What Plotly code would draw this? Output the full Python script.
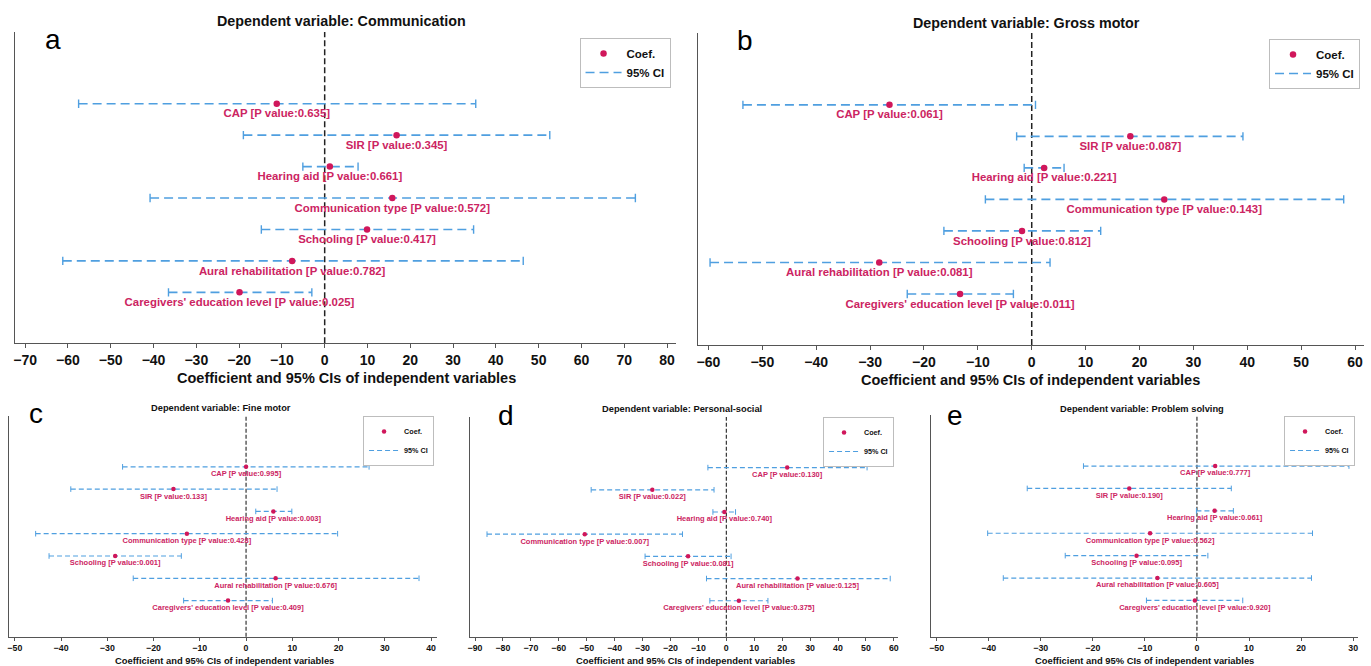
import plotly.graph_objects as go

# ---------------- data ----------------
variables = ["CAP", "SIR", "Hearing aid", "Communication type", "Schooling",
             "Aural rehabilitation", "Caregivers' education level"]
panel_letters = ["a", "b", "c", "d", "e"]
dependent_vars = ["Communication", "Gross motor", "Fine motor", "Personal-social", "Problem solving"]

comm_coef = [-11.2, 16.8, 1.2, 15.8, 9.9, -7.6, -19.9]
comm_lo = [-57.5, -19.0, -5.1, -40.8, -14.8, -61.2, -36.5]
comm_hi = [35.3, 52.6, 7.8, 72.6, 34.8, 46.4, -3.0]
comm_p = ["0.635", "0.345", "0.661", "0.572", "0.417", "0.782", "0.025"]

gross_coef = [-26.4, 18.3, 2.3, 24.6, -1.8, -28.3, -13.3]
gross_lo = [-53.6, -2.8, -1.4, -8.6, -16.3, -59.7, -23.1]
gross_hi = [0.7, 39.2, 6.0, 57.9, 12.8, 3.4, -3.4]
gross_p = ["0.061", "0.087", "0.221", "0.143", "0.812", "0.081", "0.011"]

fine_coef = [0.0, -15.7, 5.9, -12.8, -28.3, 6.4, -3.9]
fine_lo = [-26.7, -37.9, 2.1, -45.5, -42.6, -24.4, -13.5]
fine_hi = [26.6, 6.7, 9.9, 19.8, -14.0, 37.4, 5.7]
fine_p = ["0.995", "0.133", "0.003", "0.428", "0.001", "0.676", "0.409"]

pers_coef = [21.8, -26.5, -0.7, -50.7, -13.7, 25.5, 4.5]
pers_lo = [-6.6, -48.4, -4.8, -85.7, -29.1, -7.1, -5.9]
pers_hi = [50.4, -4.4, 3.3, -15.7, 1.7, 58.7, 14.9]
pers_p = ["0.130", "0.022", "0.740", "0.007", "0.081", "0.125", "0.375"]

prob_coef = [3.5, -13.0, 3.4, -9.0, -11.6, -7.6, -0.4]
prob_lo = [-21.8, -32.6, -0.1, -40.2, -25.3, -37.2, -9.7]
prob_hi = [29.2, 6.6, 7.0, 22.2, 2.1, 22.0, 8.8]
prob_p = ["0.777", "0.190", "0.061", "0.562", "0.095", "0.605", "0.920"]

panels_data = [
    (comm_coef, comm_lo, comm_hi, comm_p),
    (gross_coef, gross_lo, gross_hi, gross_p),
    (fine_coef, fine_lo, fine_hi, fine_p),
    (pers_coef, pers_lo, pers_hi, pers_p),
    (prob_coef, prob_lo, prob_hi, prob_p),
]

# ---------------- styling / layout (pixel geometry) ----------------
W, H = 1371, 666
FONT = "Liberation Sans, Arial, Helvetica, sans-serif"
RED = "#d0175b"
TXT_RED = "#cc2462"
BLUE = "#4f9fe0"
AXIS = "#555555"


def px(x):
    return x / W


def py(y):
    return 1 - y / H


# plot-area edges (px), x range, title / axis-title / letter centres, legend top-right corner
geom = [
    dict(l=13.3, r=675.5, t=32, b=343.3, xr=[-72.3, 82.1], title=(340, 21.5), xt=(345, 377.5),
         let=(51.5, 39.5), leg=(670, 38), big=True),
    dict(l=697.4, r=1365, t=33, b=345, xr=[-61.96, 61.67], title=(1026.5, 23), xt=(1031, 380),
         let=(745, 40.5), leg=(1361, 39), big=True),
    dict(l=7.3, r=436, t=416, b=636.7, xr=[-51.2, 41.3], title=(219.3, 408.2), xt=(222.7, 660),
         let=(34.5, 413), leg=(433, 416), big=False),
    dict(l=469, r=898.3, t=417, b=636.7, xr=[-91.8, 61.6], title=(681.2, 409.2), xt=(684.5, 660),
         let=(505, 415.3), leg=(894, 417), big=False),
    dict(l=930.7, r=1359.3, t=415, b=636.7, xr=[-51.15, 31.0], title=(1142.8, 408.5), xt=(1145.3, 660),
         let=(954.7, 415.3), leg=(1356, 416), big=False),
]

YR = [-0.62, 9.28]
rows = list(range(len(variables), 0, -1))

fig = go.Figure()
annotations = []
shapes = []
layout_extra = {}

for i, (g, (coef, lo, hi, pv)) in enumerate(zip(geom, panels_data)):
    k = i + 1
    xa = "x" if k == 1 else f"x{k}"
    ya = "y" if k == 1 else f"y{k}"
    lg = "legend" if k == 1 else f"legend{k}"
    big = g["big"]

    # CI dashed lines
    cx, cy = [], []
    for r, a, b in zip(rows, lo, hi):
        cx += [a, b, None]
        cy += [r, r, None]
    fig.add_trace(go.Scatter(
        x=cx, y=cy, mode="lines", name="95% CI",
        line=dict(color=BLUE, width=1.6 if big else 1.2, dash="9px,5px" if big else "5px,3px"),
        xaxis=xa, yaxis=ya, legend=lg, legendrank=2, hoverinfo="skip"))
    # CI end caps
    capx, capy = [], []
    for r, a, b in zip(rows, lo, hi):
        capx += [a, b]
        capy += [r, r]
    fig.add_trace(go.Scatter(
        x=capx, y=capy, mode="markers", showlegend=False,
        marker=dict(symbol="line-ns", size=6 if big else 4,
                    line=dict(color=BLUE, width=1.4 if big else 1.0)),
        xaxis=xa, yaxis=ya, hoverinfo="skip"))
    # coefficient points with labels
    labels = [f"{v} [P value:{p}]" for v, p in zip(variables, pv)]
    fig.add_trace(go.Scatter(
        x=coef, y=rows, mode="markers+text", name="Coef.",
        marker=dict(color=RED, size=6.5 if big else 4.5),
        text=labels, textposition="bottom center",
        textfont=dict(family=FONT, size=11.4 if big else 7.5, color=TXT_RED, weight=700),
        xaxis=xa, yaxis=ya, legend=lg, legendrank=1))

    # axes
    layout_extra["xaxis" if k == 1 else f"xaxis{k}"] = dict(
        domain=[px(g["l"]), px(g["r"])], range=g["xr"], anchor=ya,
        tickmode="linear", tick0=0, dtick=10,
        showline=True, linecolor=AXIS, linewidth=1.3,
        ticks="outside", ticklen=4 if big else 3, tickwidth=1.2, tickcolor=AXIS,
        showgrid=False, zeroline=False,
        tickfont=dict(family=FONT, size=14 if big else 8.8, color="#111", weight=700),
    )
    layout_extra["yaxis" if k == 1 else f"yaxis{k}"] = dict(
        domain=[py(g["b"]), py(g["t"])], range=YR, anchor=xa,
        showline=True, linecolor=AXIS, linewidth=1.3,
        showticklabels=False, ticks="", showgrid=False, zeroline=False,
    )
    # legend
    layout_extra[lg] = dict(
        x=px(g["leg"][0]), y=py(g["leg"][1]), xanchor="right", yanchor="top",
        xref="paper", yref="paper",
        bgcolor="white", bordercolor="#bdbdbd", borderwidth=1,
        font=dict(family=FONT, size=11.5 if big else 7.2, color="#111", weight=700),
        itemwidth=36 if big else 30, tracegroupgap=0,
    )
    # vertical zero line
    shapes.append(dict(type="line", xref=xa, yref=f"{ya} domain", x0=0, x1=0, y0=0, y1=1,
                       line=dict(color="#222222", width=1.5 if big else 1.1,
                                 dash="6px,3px" if big else "4px,2px"), layer="below"))
    # title
    annotations.append(dict(
        x=px(g["title"][0]), y=py(g["title"][1]), xref="paper", yref="paper",
        text=f"Dependent variable: {dependent_vars[i]}", showarrow=False,
        xanchor="center", yanchor="middle",
        font=dict(family=FONT, size=14.3 if big else 9.3, color="#111", weight=700)))
    # x-axis title
    annotations.append(dict(
        x=px(g["xt"][0]), y=py(g["xt"][1]), xref="paper", yref="paper",
        text="Coefficient and 95% CIs of independent variables", showarrow=False,
        xanchor="center", yanchor="middle",
        font=dict(family=FONT, size=14.5 if big else 9.4, color="#111", weight=700)))
    # panel letter
    annotations.append(dict(
        x=px(g["let"][0]), y=py(g["let"][1]), xref="paper", yref="paper",
        text=panel_letters[i], showarrow=False, xanchor="center", yanchor="middle",
        font=dict(family=FONT, size=28, color="#000")))

fig.update_layout(
    width=W, height=H, margin=dict(l=0, r=0, t=0, b=0),
    paper_bgcolor="white", plot_bgcolor="white",
    annotations=annotations, shapes=shapes,
    **layout_extra,
)

fig.write_html(
    "out.html",
    config={"displayModeBar": False},
    post_script="document.body.style.margin='0';document.body.style.padding='0';"
                "document.body.style.overflow='hidden';",
)
